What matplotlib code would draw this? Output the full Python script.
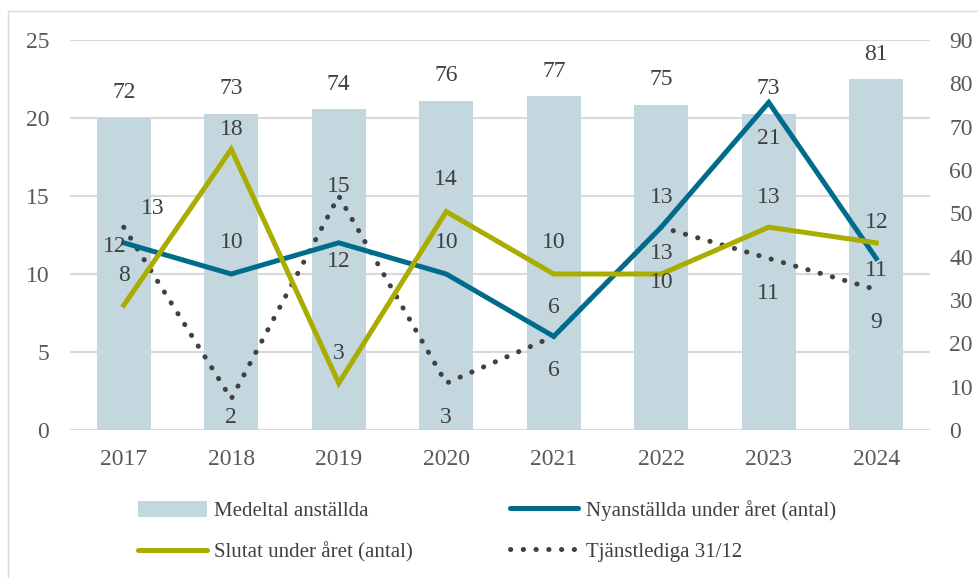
import matplotlib
matplotlib.use("Agg")
import matplotlib.pyplot as plt
from matplotlib.patches import Rectangle, Patch
from matplotlib.lines import Line2D

years = ["2017", "2018", "2019", "2020", "2021", "2022", "2023", "2024"]
medeltal = [72, 73, 74, 76, 77, 75, 73, 81]
nyanstallda = [12, 10, 12, 10, 6, 13, 21, 11]
slutat = [8, 18, 3, 14, 10, 10, 13, 12]
tjanstlediga = [13, 2, 15, 3, 6, 13, 11, 9]

left_ticks = [0, 5, 10, 15, 20, 25]
right_ticks = [0, 10, 20, 30, 40, 50, 60, 70, 80, 90]

# label offsets in pixels (dx, dy) relative to point
off_nyan = [(-9, -4), (0, 31), (0, -19), (0, 31), (0, 29), (0, 30), (0, -36), (0, -12)]
off_slut = [(0, 30), (0, 20), (0, 30), (0, 32), (0, 31), (0, -8), (0, 30), (0, 20)]
off_tjan = [(29, 19), (0, -19), (0, 9), (0, -34), (0, -34), (0, -26), (0, -35), (0, -33)]

plt.rcParams['font.family'] = ['Liberation Serif', 'DejaVu Serif']

C_BAR = "#c4d7de"
C_NYAN = "#006b8a"
C_SLUT = "#a8ad00"
C_TJAN = "#404040"
C_TXT = "#404040"
C_TICK = "#595959"
C_GRID = "#d9d9d9"
FS = 17
DPI = 100
LW = 3.6
DOTS = (0, (0.05, 2.5))

fig = plt.figure(figsize=(9.79, 5.78), dpi=DPI)
W, H = 979, 578
fig.patches.append(Rectangle((8 / W, -0.1), 1.2, (H - 11) / H + 0.1, transform=fig.transFigure,
                             fill=False, edgecolor="#d9d9d9", linewidth=1.0))

ax = fig.add_axes([70 / W, (H - 430) / H, 860 / W, 390 / H])
x = list(range(len(years)))

# bars on right-axis scale
ax.set_ylim(0, 90)
ax.set_xlim(-0.5, len(years) - 0.5)
for t in left_ticks:
    ax.axhline(t * 90 / 25, color=C_GRID, linewidth=1.5, zorder=0)
bars = ax.bar(x, medeltal, width=0.5, color=C_BAR, zorder=1)
for xi, v in zip(x, medeltal):
    ax.annotate(str(v), (xi, v), xytext=(0, 25 * 72 / DPI), textcoords="offset points",
                ha="center", va="center", fontsize=FS, color=C_TXT)
ax.set_xticks(x)
ax.set_xticklabels(years)
for s in ax.spines.values():
    s.set_visible(False)

ax2 = ax.twinx()
ax2.set_ylim(0, 25)
ax2.yaxis.tick_left()
ax2.yaxis.set_label_position("left")
ax2.set_yticks(left_ticks)
ax2.set_yticklabels([str(t) for t in left_ticks])
ax2.tick_params(axis="y", length=0, labelsize=FS, colors=C_TICK, pad=15)
for s in ax2.spines.values():
    s.set_visible(False)

ax.yaxis.tick_right()
ax.yaxis.set_label_position("right")
ax.set_yticks(right_ticks)
ax.set_yticklabels([str(t) for t in right_ticks])
ax.tick_params(axis="both", length=0, labelsize=FS, colors=C_TICK)
ax.tick_params(axis="y", pad=14, left=False, labelleft=False, right=False, labelright=True)
ax.tick_params(axis="x", pad=14)

ax2.plot(x, tjanstlediga, color=C_TJAN, linewidth=LW, linestyle=DOTS,
         dash_capstyle="round", zorder=3)
ax2.plot(x, nyanstallda, color=C_NYAN, linewidth=LW, solid_joinstyle="miter", zorder=4)
ax2.plot(x, slutat, color=C_SLUT, linewidth=LW, solid_joinstyle="miter", zorder=5)

k = 72 / DPI
for vals, offs in ((nyanstallda, off_nyan), (slutat, off_slut), (tjanstlediga, off_tjan)):
    for xi, v, (dx, dy) in zip(x, vals, offs):
        ax2.annotate(str(v), (xi, v), xytext=(dx * k, dy * k), textcoords="offset points",
                     ha="center", va="center", fontsize=FS, color=C_TXT, zorder=6)

handles = [
    Patch(facecolor=C_BAR, edgecolor="none"),
    Line2D([], [], color=C_SLUT, linewidth=LW, solid_capstyle="round"),
    Line2D([], [], color=C_NYAN, linewidth=LW, solid_capstyle="round"),
    Line2D([], [], color=C_TJAN, linewidth=LW, linestyle=DOTS, dash_capstyle="round"),
]
labels = ["Medeltal anställda", "Slutat under året (antal)",
          "Nyanställda under året (antal)", "Tjänstlediga 31/12"]
leg = fig.legend(handles, labels, ncol=2, loc="upper left",
                 bbox_to_anchor=(138 / W, (H - 500) / H), frameon=False,
                 fontsize=15, handlelength=3.3, handleheight=0.8, handletextpad=0.35,
                 columnspacing=4.65, labelspacing=1.0, borderpad=0, borderaxespad=0)
for t in leg.get_texts():
    t.set_color(C_TXT)

fig.savefig("out.png", dpi=DPI)
